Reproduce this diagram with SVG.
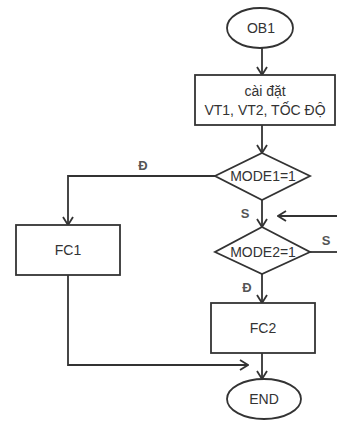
<svg xmlns="http://www.w3.org/2000/svg" width="337" height="422" viewBox="0 0 337 422">
<defs>
<marker id="arr" viewBox="0 0 12 12" refX="11" refY="6" markerWidth="12" markerHeight="12" markerUnits="userSpaceOnUse" orient="auto">
<path d="M3,1 L11,6 L3,11" fill="none" stroke="#333" stroke-width="1.8"/>
</marker>
<style>
.shape{fill:#fff;stroke:#333;stroke-width:1.8}
.line{fill:none;stroke:#333;stroke-width:1.8}
text{font-family:"Liberation Sans",Arial,sans-serif;font-size:14px;fill:#333;text-anchor:middle}
.lbl{font-size:13px;font-weight:bold;fill:#555}
</style>
</defs>
<rect width="337" height="422" fill="#fff"/>
<g id="connectors">
<path class="line" d="M262,48 V75" marker-end="url(#arr)"/>
<path class="line" d="M262,125 V153" marker-end="url(#arr)"/>
<path class="line" d="M215,176 H68 V225" marker-end="url(#arr)"/>
<path class="line" d="M262,200 V227" marker-end="url(#arr)"/>
<path class="line" d="M337,216 H278" marker-end="url(#arr)"/>
<path class="line" d="M310,252 H337"/>
<path class="line" d="M262,274 V303" marker-end="url(#arr)"/>
<path class="line" d="M262,353 V379" marker-end="url(#arr)"/>
<path class="line" d="M68,275 V365 H248" marker-end="url(#arr)"/>
<text class="lbl" x="143" y="170">Đ</text>
<text class="lbl" x="245" y="218">S</text>
<text class="lbl" x="326" y="245">S</text>
<text class="lbl" x="247" y="292">Đ</text>
</g>
<g id="ob1">
<ellipse class="shape" cx="260" cy="28" rx="33" ry="20"/>
<text x="261" y="33">OB1</text>
</g>
<g id="setup">
<rect class="shape" x="195" y="75" width="140" height="50"/>
<text x="265" y="96">cài đặt</text>
<text x="265" y="115">VT1, VT2, TỐC ĐỘ</text>
</g>
<g id="mode1">
<polygon class="shape" points="262,153 310,176 262,200 215,176"/>
<text x="263" y="181">MODE1=1</text>
</g>
<g id="mode2">
<polygon class="shape" points="262,227 310,252 262,274 215,252"/>
<text x="263" y="257">MODE2=1</text>
</g>
<g id="fc1">
<rect class="shape" x="16" y="225" width="104" height="50"/>
<text x="68" y="255">FC1</text>
</g>
<g id="fc2">
<rect class="shape" x="211" y="303" width="104" height="50"/>
<text x="263" y="333">FC2</text>
</g>
<g id="end">
<ellipse class="shape" cx="264" cy="399" rx="37" ry="20"/>
<text x="264" y="404">END</text>
</g>
</svg>
